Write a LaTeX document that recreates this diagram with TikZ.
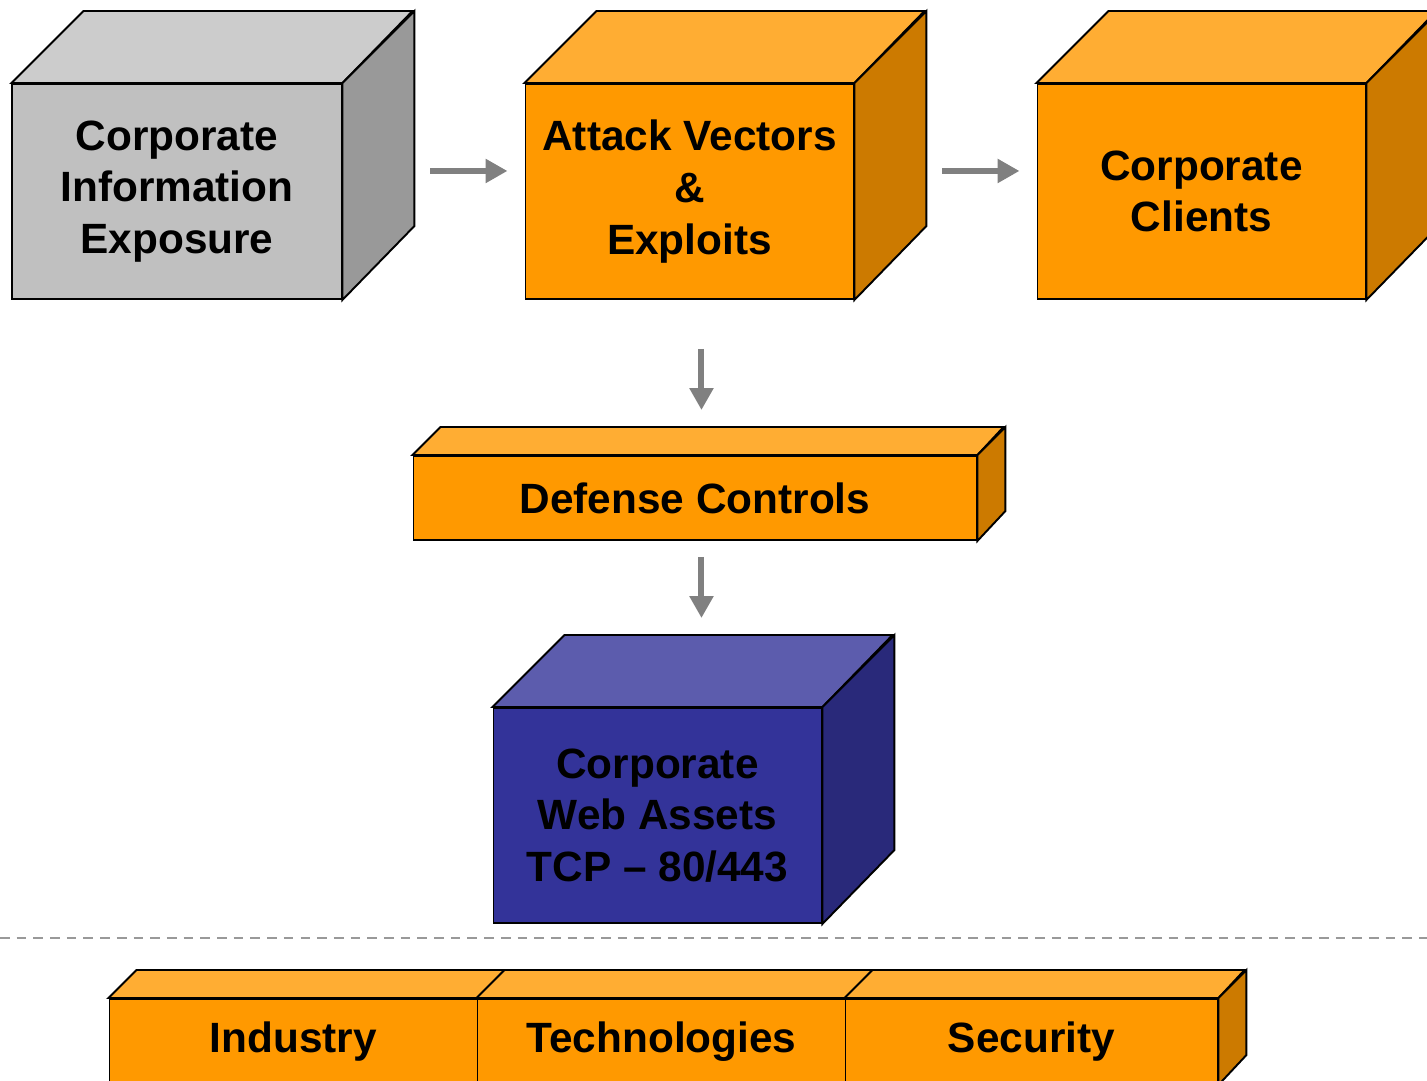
\documentclass[tikz,border=0pt]{standalone}
\usepackage{fontspec}
\setmainfont{Liberation Sans}
\usetikzlibrary{arrows.meta}

\definecolor{grayfront}{HTML}{C0C0C0}
\definecolor{graytop}{HTML}{CCCCCC}
\definecolor{grayside}{HTML}{999999}
\definecolor{orangefront}{HTML}{FF9900}
\definecolor{orangetop}{HTML}{FFAD33}
\definecolor{orangeside}{HTML}{CC7A00}
\definecolor{bluefront}{HTML}{333399}
\definecolor{bluetop}{HTML}{5C5CAD}
\definecolor{blueside}{HTML}{29297A}
\definecolor{arrowgray}{HTML}{808080}

\begin{document}
\begin{tikzpicture}[
    face/.style={draw, line width=1.1pt, line join=miter},
    box/.style={face, anchor=north west, align=center, inner sep=0pt,
        font=\fontsize{24.1}{29.4}\selectfont\bfseries},
    link/.style={-{Triangle[length=0.44cm, width=0.46cm]}, line width=0.12cm, draw=arrowgray}
]
\useasboundingbox (0,0) rectangle (28.54,-21.62);

% top row
\node[box, fill=grayfront, minimum width=6.58cm, minimum height=4.30cm] (info) at (0.23,-1.66) {Corporate\\Information\\Exposure};
\draw[face, fill=graytop] (info.north west) -- ++(1.44,1.44) -- ++(6.58,0) -- (info.north east) -- cycle;
\draw[face, fill=grayside] (info.north east) -- ++(1.44,1.44) -- ++(0,-4.30) -- (info.south east) -- cycle;

\node[box, fill=orangefront, minimum width=6.56cm, minimum height=4.30cm] (attack) at (10.49,-1.66) {Attack Vectors\\\&\\Exploits};
\draw[face, fill=orangetop] (attack.north west) -- ++(1.44,1.44) -- ++(6.56,0) -- (attack.north east) -- cycle;
\draw[face, fill=orangeside] (attack.north east) -- ++(1.44,1.44) -- ++(0,-4.30) -- (attack.south east) -- cycle;

\node[box, fill=orangefront, minimum width=6.56cm, minimum height=4.30cm] (clients) at (20.73,-1.66) {Corporate\\Clients};
\draw[face, fill=orangetop] (clients.north west) -- ++(1.44,1.44) -- ++(6.56,0) -- (clients.north east) -- cycle;
\draw[face, fill=orangeside] (clients.north east) -- ++(1.44,1.44) -- ++(0,-4.30) -- (clients.south east) -- cycle;

% middle
\node[box, fill=orangefront, minimum width=11.26cm, minimum height=1.68cm] (defense) at (8.25,-9.10) {Defense Controls};
\draw[face, fill=orangetop] (defense.north west) -- ++(0.56,0.56) -- ++(11.26,0) -- (defense.north east) -- cycle;
\draw[face, fill=orangeside] (defense.north east) -- ++(0.56,0.56) -- ++(0,-1.68) -- (defense.south east) -- cycle;

\node[box, fill=bluefront, minimum width=6.56cm, minimum height=4.30cm] (web) at (9.85,-14.14) {Corporate\\Web Assets\\TCP -- 80/443};
\draw[face, fill=bluetop] (web.north west) -- ++(1.44,1.44) -- ++(6.56,0) -- (web.north east) -- cycle;
\draw[face, fill=blueside] (web.north east) -- ++(1.44,1.44) -- ++(0,-4.30) -- (web.south east) -- cycle;

% arrows
\draw[link, shorten <=1.76cm, shorten >=0.34cm] ([yshift=0.41cm]info.east) -- ([yshift=0.41cm]attack.west);
\draw[link, shorten <=1.76cm, shorten >=0.34cm] ([yshift=0.41cm]attack.east) -- ([yshift=0.41cm]clients.west);
\draw[link, shorten <=0.98cm, shorten >=0.90cm] ([xshift=0.24cm]attack.south) -- ([xshift=0.24cm]attack.south |- defense.north);
\draw[link, shorten <=0.32cm, shorten >=1.78cm] ([xshift=0.13cm]defense.south) -- ([xshift=0.13cm]defense.south |- web.north);

% separator
\draw[grayside, line width=1.2pt, dash pattern=on 5.5pt off 4pt] (0,-18.76) -- (28.54,-18.76);

% bottom row
\node[box, fill=orangefront, minimum width=7.36cm, minimum height=1.70cm] (industry) at (2.17,-19.96) {Industry};
\draw[face, fill=orangetop] (industry.north west) -- ++(0.56,0.56) -- ++(7.36,0) -- (industry.north east) -- cycle;

\node[box, fill=orangefront, minimum width=7.36cm, minimum height=1.70cm] (tech) at (9.53,-19.96) {Technologies};
\draw[face, fill=orangetop] (tech.north west) -- ++(0.56,0.56) -- ++(7.36,0) -- (tech.north east) -- cycle;

\node[box, fill=orangefront, minimum width=7.44cm, minimum height=1.70cm] (security) at (16.89,-19.96) {Security};
\draw[face, fill=orangetop] (security.north west) -- ++(0.56,0.56) -- ++(7.44,0) -- (security.north east) -- cycle;
\draw[face, fill=orangeside] (security.north east) -- ++(0.56,0.56) -- ++(0,-1.70) -- (security.south east) -- cycle;
\end{tikzpicture}
\end{document}
